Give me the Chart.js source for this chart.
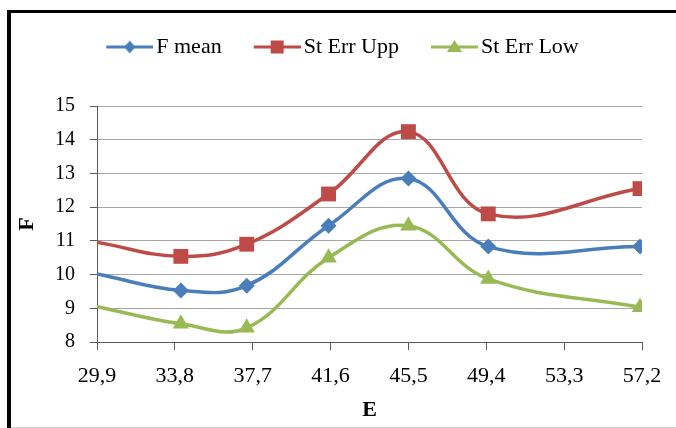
<!DOCTYPE html>
<html>
<head>
<meta charset="utf-8">
<script src="https://cdn.jsdelivr.net/npm/chart.js@4.4.1/dist/chart.umd.min.js"></script>
<style>
  html, body { margin: 0; padding: 0; background: #fff; }
  canvas { display: block; }
</style>
</head>
<body>
<canvas id="chart" width="676" height="428"></canvas>
<script>
// --- Data ---
const eValues = [29.9, 34.1, 37.4, 41.5, 45.5, 49.5, 57.1];
const fMean = [10.02, 9.53, 9.67, 11.45, 12.85, 10.83, 10.83];
const stErrUpp = [10.96, 10.54, 10.90, 12.39, 14.24, 11.80, 12.55];
const stErrLow = [9.05, 8.54, 8.42, 10.50, 11.45, 9.87, 9.03];
const xTicks = [29.9, 33.8, 37.7, 41.6, 45.5, 49.4, 53.3, 57.2];
const seriesNames = ['F mean', 'St Err Upp', 'St Err Low'];
const seriesColors = ['#4a7ebb', '#be4b48', '#98b954'];
const seriesMarkers = ['rectRot', 'rect', 'triangle'];

const FONT = "'Liberation Serif', 'Times New Roman', serif";

function toPoints(ys) {
  return eValues.map((x, i) => ({ x: x, y: ys[i] }));
}

// first point sits on the axis with no marker in the original
function radii(r) {
  return eValues.map((_, i) => i === 0 ? 0 : r);
}

// Legend icon: short line with the marker in the middle (blank on the left for spacing)
function legendIcon(color, marker) {
  const c = document.createElement('canvas');
  c.width = 86;
  c.height = 20;
  const ctx = c.getContext('2d');
  const x0 = 39, x1 = 86, cy = 10, cx = (x0 + x1) / 2;
  ctx.strokeStyle = color;
  ctx.fillStyle = color;
  ctx.lineWidth = 3;
  ctx.beginPath();
  ctx.moveTo(x0, cy);
  ctx.lineTo(x1, cy);
  ctx.stroke();
  ctx.beginPath();
  if (marker === 'rectRot') {
    ctx.moveTo(cx, cy - 6.5); ctx.lineTo(cx + 5.5, cy); ctx.lineTo(cx, cy + 6.5); ctx.lineTo(cx - 5.5, cy);
  } else if (marker === 'rect') {
    ctx.rect(cx - 6.5, cy - 6.5, 13, 13);
  } else {
    ctx.moveTo(cx, cy - 7); ctx.lineTo(cx + 7.5, cy + 5); ctx.lineTo(cx - 7.5, cy + 5);
  }
  ctx.closePath();
  ctx.fill();
  return c;
}

// Frame round the picture (thick black left/top, thin grey bottom)
const framePlugin = {
  id: 'frame',
  beforeDraw(chart) {
    const ctx = chart.ctx;
    ctx.save();
    ctx.fillStyle = '#fff';
    ctx.fillRect(0, 0, chart.width, chart.height);
    ctx.fillStyle = '#000';
    ctx.fillRect(7, 10, chart.width - 7, 3);
    ctx.fillRect(7, 10, 4, chart.height - 10);
    ctx.fillStyle = '#d4d4d4';
    ctx.fillRect(11, chart.height - 1, chart.width - 11, 1);
    ctx.restore();
  }
};

const datasets = [fMean, stErrUpp, stErrLow].map((ys, i) => ({
  label: seriesNames[i],
  data: toPoints(ys),
  borderColor: seriesColors[i],
  backgroundColor: seriesColors[i],
  borderWidth: 3.5,
  tension: 0.4,
  pointStyle: seriesMarkers[i],
  pointRadius: radii(i === 0 ? 8 : (i === 1 ? 10.5 : 9.5)),
  pointBorderWidth: 0,
  fill: false
}));

const ctx = document.getElementById('chart').getContext('2d');
new Chart(ctx, {
  type: 'line',
  data: { datasets: datasets },
  plugins: [framePlugin],
  options: {
    responsive: false,
    animation: false,
    devicePixelRatio: 1,
    layout: { padding: { left: 12, right: 34, top: 35, bottom: 0 } },
    plugins: {
      tooltip: { enabled: false },
      // empty subtitle used as a spacer between legend and plot
      subtitle: {
        display: true,
        text: ' ',
        weight: 500,
        font: { size: 10 },
        padding: { top: 26, bottom: 0 }
      },
      legend: {
        position: 'top',
        labels: {
          usePointStyle: true,
          pointStyleWidth: 70,
          padding: 1,
          color: '#000',
          font: { family: FONT, size: 22 },
          generateLabels(chart) {
            return chart.data.datasets.map((ds, i) => ({
              text: ds.label,
              datasetIndex: i,
              fillStyle: seriesColors[i],
              strokeStyle: seriesColors[i],
              lineWidth: 0,
              hidden: false,
              pointStyle: legendIcon(seriesColors[i], seriesMarkers[i])
            }));
          }
        }
      }
    },
    scales: {
      x: {
        type: 'linear',
        min: 29.9,
        max: 57.2,
        afterBuildTicks(scale) {
          scale.ticks = xTicks.map(v => ({ value: v }));
        },
        afterFit(scale) {
          scale.height = 86;
        },
        ticks: {
          color: '#000',
          font: { family: FONT, size: 22 },
          padding: 13,
          autoSkip: false,
          maxRotation: 0,
          callback: v => v.toFixed(1).replace('.', ',')
        },
        grid: {
          drawOnChartArea: false,
          drawTicks: true,
          tickLength: 8,
          tickColor: '#595959'
        },
        border: { color: '#595959', width: 1 },
        title: {
          display: true,
          text: 'E',
          color: '#000',
          font: { family: FONT, size: 22, weight: 'bold' },
          padding: { top: 0, bottom: 4 }
        }
      },
      y: {
        min: 8,
        max: 15,
        afterFit(scale) {
          scale.width = 85;
        },
        ticks: {
          stepSize: 1,
          color: '#000',
          font: { family: FONT, size: 20 },
          padding: 15
        },
        grid: {
          color: '#a6a6a6',
          lineWidth: 1,
          tickLength: 7,
          tickColor: '#595959'
        },
        border: { color: '#595959', width: 1 },
        title: {
          display: true,
          text: 'F',
          color: '#000',
          font: { family: FONT, size: 22, weight: 'bold' },
          padding: { top: 2, bottom: 0 }
        }
      }
    }
  }
});
</script>
</body>
</html>
